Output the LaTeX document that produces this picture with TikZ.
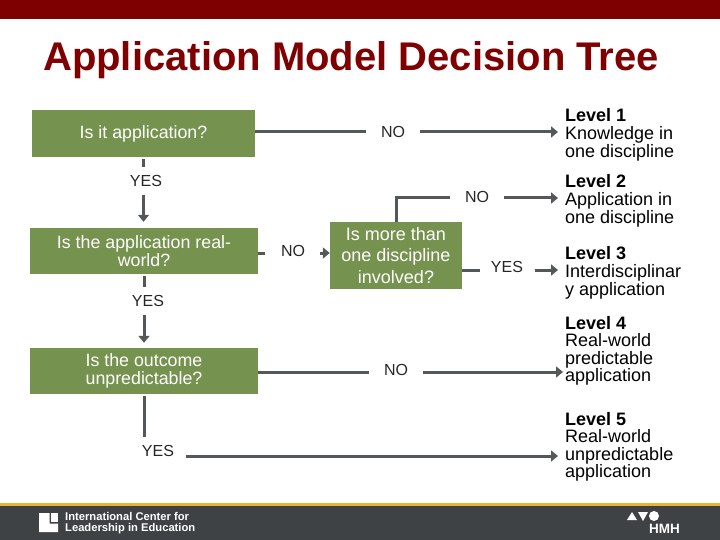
\documentclass[tikz,border=0pt]{standalone}
\usepackage{fontspec}
\setmainfont{Liberation Sans}
\usetikzlibrary{arrows.meta}
\definecolor{boxgreen}{HTML}{76924F}
\definecolor{linegray}{HTML}{55585A}
\definecolor{barred}{HTML}{7F0000}
\definecolor{footgray}{HTML}{3F4244}
\definecolor{footgold}{HTML}{E8B52E}
\tikzset{
  qbox/.style={fill=boxgreen,text=white,align=center,inner sep=0pt,font=\fontsize{17.8}{18}\selectfont},
  ans/.style={inner sep=0pt,font=\fontsize{16}{17}\selectfont,text=black!85,minimum height=4pt},
  lvl/.style={anchor=west,align=left,inner sep=0pt,text=black,font=\fontsize{18}{18}\selectfont},
  lvlb/.style={lvl,font=\fontsize{18}{17.5}\selectfont},
  flow/.style={draw=linegray,line width=3pt},
  flowto/.style={flow,-{Triangle[length=7pt,width=11pt]}},
}
\begin{document}
\begin{tikzpicture}[x=1pt,y=-1pt]
\useasboundingbox (0,0) rectangle (720,540);
\fill [barred] (0,0) rectangle (720,19);
\node [anchor=west,inner sep=0pt,text=barred,font=\fontsize{40}{42}\bfseries\selectfont] (title) at (43,60) {Application Model Decision Tree};
% questions
\node [qbox,minimum width=223pt,minimum height=47pt] (q1) at (143.5,133.5) {Is it application?};
\node [qbox,minimum width=228pt,minimum height=46pt] (q2) at (144,251) {Is the application real-\\world?};
\node [qbox,minimum width=228pt,minimum height=46pt] (q3) at (144,371) {Is the outcome\\unpredictable?};
\node [qbox,minimum width=132pt,minimum height=67pt,font=\fontsize{18}{21.5}\selectfont] (q4) at (396,255.5) {Is more than\\one discipline\\involved?};
% levels
\node [lvl] (l1) at (565,135) {\textbf{Level 1}\\Knowledge in\\one discipline};
\node [lvl] (l2) at (565,201) {\textbf{Level 2}\\Application in\\one discipline};
\node [lvl] (l3) at (565,273) {\textbf{Level 3}\\Interdisciplinar\\y application};
\node [lvlb] (l4) at (565,351) {\textbf{Level 4}\\Real-world\\predictable\\application};
\node [lvlb] (l5) at (565,447) {\textbf{Level 5}\\Real-world\\unpredictable\\application};
% answers
\node [ans] (no1) at (393,132) {NO};
\node [ans] (no2) at (477,197) {NO};
\node [ans] (no3) at (293,251) {NO};
\node [ans] (no4) at (396,370) {NO};
\node [ans] (yes1) at (146,181) {YES};
\node [ans] (yes2) at (148,301) {YES};
\node [ans] (yes3) at (158,451) {YES};
\node [ans] (yes4) at (507,267) {YES};
% arrow ends
\coordinate (t1) at (558,132);
\coordinate (t2) at (558,198);
\coordinate (t3) at (558,270);
\coordinate (t4) at (563,372);
\coordinate (t5) at (558,456);
\coordinate (b1) at (450,198);
\coordinate (e1) at (265,253);
\coordinate (e2) at (480,270);
% connectors
\draw [flow] (q1.east |- t1) -- ([xshift=-14.5pt]no1.west |- t1);
\draw [flowto] ([xshift=14.5pt]no1.east |- t1) -- (t1);
\draw [flow] (q4.north) |- (b1);
\draw [flowto] ([xshift=14.5pt]no2.east |- t2) -- (t2);
\draw [flow] (q2.east |- e1) -- (e1);
\draw [flowto] ([xshift=14.5pt]no3.east |- e1) -- (q4.west |- e1);
\draw [flow] (q4.east |- e2) -- (e2);
\draw [flowto] ([xshift=11.5pt]yes4.east |- t3) -- (t3);
\draw [flow] (q3.east |- t4) -- ([xshift=-14.5pt]no4.west |- t4);
\draw [flowto] ([xshift=14.5pt]no4.east |- t4) -- (t4);
\draw [flowto] ([xshift=12pt]yes3.east |- t5) -- (t5);
\draw [flow] ([yshift=-2pt]q1.south) -- ([yshift=8pt]yes1.north -| q1.south);
\draw [flowto] ([yshift=-8pt]yes1.south -| q1.south) -- ([yshift=6pt]q2.north -| q1.south);
\draw [flow] ([yshift=-2pt]q2.south) -- ([yshift=8pt]yes2.north -| q2.south);
\draw [flowto] ([yshift=-8pt]yes2.south -| q2.south) -- ([yshift=5pt]q3.north);
\draw [flow] ([yshift=-2pt]q3.south) -- ([yshift=8pt]yes3.north -| q3.south);
% footer
\fill [footgray] (0,506) rectangle (720,540);
\fill [footgold] (0,503) rectangle (720,506);
\fill [white] (39,513) -- (49.5,513) -- (49.5,523.5) -- (58,523.5) -- (58,532) -- (39,532) -- cycle;
\fill [white] (51,513) rectangle (58,522);
\node [anchor=west,align=left,inner sep=0pt,text=white,font=\fontsize{11.2}{11.5}\selectfont\bfseries] (icle) at (65,523) {International Center for\\Leadership in Education};
\fill [white] (627,520) -- (632,512) -- (637,520) -- cycle;
\fill [white] (638,512) -- (648,512) -- (643,521) -- cycle;
\fill [white] (654,516) circle (5pt);
\node [anchor=west,inner sep=0pt,text=white,font=\fontsize{13.5}{13.5}\selectfont\bfseries] (hmh) at (649,528.5) {HMH};
\end{tikzpicture}
\end{document}
